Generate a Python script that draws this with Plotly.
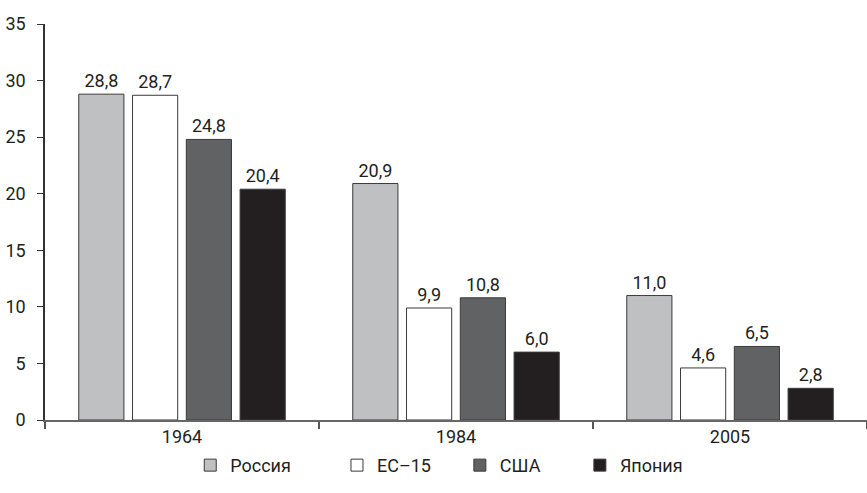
import plotly.graph_objects as go

years = ["1964", "1984", "2005"]
series_names = ["Россия", "ЕС–15", "США", "Япония"]
russia = [28.8, 20.9, 11.0]
eu15 = [28.7, 9.9, 4.6]
usa = [24.8, 10.8, 6.5]
japan = [20.4, 6.0, 2.8]
y_ticks = [0, 5, 10, 15, 20, 25, 30, 35]

values = [russia, eu15, usa, japan]
colors = ["#bfc0c2", "#ffffff", "#616264", "#231f20"]
FONT = "Roboto, sans-serif"

fig = go.Figure()
legend_names = ["legend", "legend2", "legend3", "legend4"]
for name, vals, col, lg in zip(series_names, values, colors, legend_names):
    fig.add_trace(go.Bar(
        x=years, y=vals, name=name,
        marker=dict(color=col, line=dict(color="#3a3a3a", width=1)),
        text=[f"{v:.1f}".replace(".", ",") for v in vals],
        textposition="outside",
        textfont=dict(family=FONT, size=18, color="#231f20"),
        cliponaxis=False,
        legend=lg,
        showlegend=True,
    ))

legend_x = [0.1767, 0.3552, 0.5047, 0.6507]
layout_legends = {}
for lg, lx in zip(legend_names, legend_x):
    layout_legends[lg] = dict(
        x=lx, y=-0.068, xanchor="left", yanchor="top",
        orientation="h", bgcolor="rgba(0,0,0,0)",
        font=dict(family=FONT, size=18, color="#231f20"),
        itemwidth=30, tracegroupgap=0, visible=True,
    )

fig.update_layout(
    width=867, height=493,
    margin=dict(l=45, r=0, t=24, b=73, autoexpand=False),
    plot_bgcolor="white", paper_bgcolor="white",
    showlegend=True,
    barmode="group", bargap=0.215, bargroupgap=0.16,
    font=dict(family=FONT, size=18, color="#231f20"),
    xaxis=dict(
        type="category", tickson="boundaries", ticks="outside", ticklen=7,
        tickcolor="#555", tickwidth=1.5,
        showline=True, linecolor="#666", linewidth=1.5,
        showgrid=False, tickfont=dict(family=FONT, size=18, color="#231f20"),
    ),
    yaxis=dict(
        range=[0, 35], tickvals=y_ticks, ticks="outside", ticklen=6,
        tickcolor="#333", showline=True, linecolor="#333", linewidth=1.5,
        showgrid=False, zeroline=False, ticklabelstandoff=8,
        tickfont=dict(family=FONT, size=18, color="#231f20"),
    ),
    **layout_legends,
)

fig.write_html(
    "out.html",
    config={"displayModeBar": False},
    post_script="document.body.style.margin='0';document.body.style.overflow='hidden';",
)
